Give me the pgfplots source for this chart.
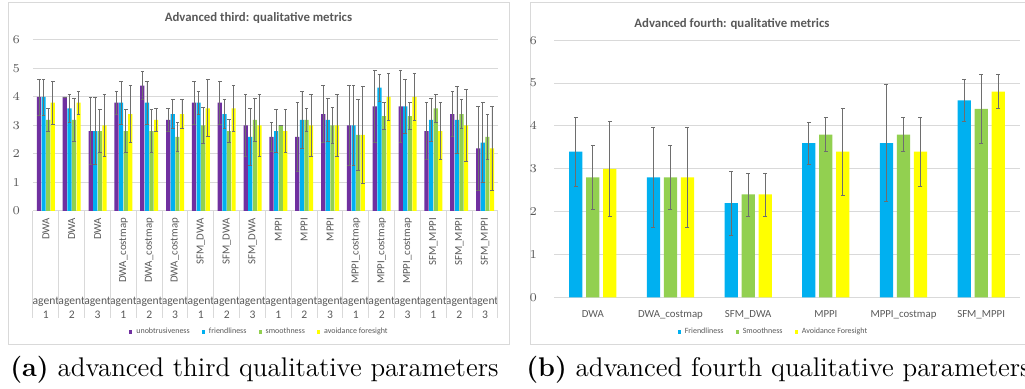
\documentclass[border=0pt]{standalone}
\usepackage{graphicx}
\usepackage{pgfplots}
\pgfplotsset{compat=1.18}
\usepackage{pgfplotstable}
\usepackage{fontspec}
\newfontfamily\cf{Carlito}
\definecolor{cpurple}{HTML}{7030A0}
\definecolor{cblue}{HTML}{00B0F0}
\definecolor{cgreen}{HTML}{92D050}
\definecolor{cyellow}{HTML}{FFFF00}
\definecolor{gridgray}{HTML}{D9D9D9}
\definecolor{textgray}{HTML}{595959}
\definecolor{errgray}{HTML}{6E6E6E}

\pgfplotstableread{
x u ue f fe s se a ae
0 4.0 0.63 4.0 0.63 3.2 0.4 3.8 0.75
1 4.0 0 3.6 0.5 3.2 0.75 3.8 0.4
2 2.8 1.17 2.8 1.17 2.8 0.75 3.0 1.1
3 3.8 0.4 3.8 0.75 2.8 0.75 3.4 1.0
4 4.4 0.5 3.8 0.75 2.8 0.75 3.2 0.4
5 3.2 0.4 3.4 0.5 2.6 0.5 3.4 0.5
6 3.8 0.75 3.8 0.4 3.0 0.63 3.6 1.0
7 3.8 0.75 3.4 0.5 2.8 0.4 3.6 0.8
8 3.0 1.1 2.6 1.0 3.2 0.75 3.0 1.1
9 2.6 0.5 2.8 0.75 3.0 0 2.8 0.75
10 2.6 1.2 3.2 1.0 3.2 0.4 3.0 1.1
11 3.4 1.0 3.2 0.75 3.0 0.63 3.0 1.1
12 3.0 1.41 3.0 1.41 2.67 1.25 2.67 1.7
13 3.67 1.25 4.33 0.47 3.33 0.47 4.0 0.82
14 3.67 1.25 3.67 0.94 3.33 0.47 4.0 0.82
15 2.8 1.0 3.2 0.75 3.6 0.5 2.8 1.0
16 3.4 0.8 3.2 1.17 3.4 0.5 3.0 1.26
17 2.2 1.47 2.4 1.4 2.6 0.8 2.2 1.47
}\tabA

\pgfplotstableread{
x f fe s se a ae
0 3.4 0.8 2.8 0.75 3.0 1.1
1 2.8 1.17 2.8 0.75 2.8 1.17
2 2.2 0.75 2.4 0.5 2.4 0.5
3 3.6 0.49 3.8 0.4 3.4 1.02
4 3.6 1.36 3.8 0.4 3.4 0.8
5 4.6 0.49 4.4 0.8 4.8 0.4
}\tabB

\pgfplotsset{
  excelbar/.style={
    draw=none, fill=#1,
    error bars/.cd, y dir=both, y explicit,
    error bar style={errgray, line width=0.4pt},
    error mark options={errgray, line width=0.4pt, mark size=0.9pt, rotate=90}
  },
  excelbarB/.style={
    draw=none, fill=#1,
    error bars/.cd, y dir=both, y explicit,
    error bar style={errgray, line width=0.4pt},
    error mark options={errgray, line width=0.4pt, mark size=1pt, rotate=90}
  },
}
\newcommand{\rl}[1]{\rotatebox{90}{#1}}

\begin{document}
\begin{tikzpicture}
\useasboundingbox (0,0) rectangle (512.5pt,194.5pt);
\clip (0,0) rectangle (512.5pt,194.5pt);
% frames
\draw[gridgray, line width=0.5pt] (4pt,22pt) rectangle (254.5pt,193pt);
\draw[gridgray, line width=0.5pt] (265pt,22pt) rectangle (520pt,193pt);
% titles
\node[font=\cf\bfseries\fontsize{6.4}{7}\selectfont, text=textgray] at (129.25pt,185.5pt) {Advanced third: qualitative metrics};
\node[font=\cf\bfseries\fontsize{6.4}{7}\selectfont, text=textgray] at (366pt,182.5pt) {Advanced fourth: qualitative metrics};

\begin{axis}[
  at={(16.5pt,89pt)}, anchor=south west,
  width=232.5pt, height=85.5pt, scale only axis,
  xmin=-0.5, xmax=17.5, ymin=0, ymax=6,
  ytick={0,...,6},
  ymajorgrids, grid style={gridgray, line width=0.5pt},
  axis line style={draw=none}, major tick length=0pt,
  xtick={0,...,17},
  xticklabels={\rl{DWA},\rl{DWA},\rl{DWA},\rl{DWA\_costmap},\rl{DWA\_costmap},\rl{DWA\_costmap},\rl{SFM\_DWA},\rl{SFM\_DWA},\rl{SFM\_DWA},\rl{MPPI},\rl{MPPI},\rl{MPPI},\rl{MPPI\_costmap},\rl{MPPI\_costmap},\rl{MPPI\_costmap},\rl{SFM\_MPPI},\rl{SFM\_MPPI},\rl{SFM\_MPPI}},
  xticklabel style={anchor=north, font=\cf\fontsize{5.4}{6}\selectfont, text=textgray},
  yticklabel style={font=\cf\fontsize{5.8}{7}\selectfont, text=textgray, xshift=-3pt},
  extra x ticks={0,...,17},
  extra x tick labels={agent\\1,agent\\2,agent\\3,agent\\1,agent\\2,agent\\3,agent\\1,agent\\2,agent\\3,agent\\1,agent\\2,agent\\3,agent\\1,agent\\2,agent\\3,agent\\1,agent\\2,agent\\3},
  extra x tick style={xticklabel style={anchor=north, align=center, yshift=-39.5pt, font=\cf\fontsize{5.8}{7}\selectfont, text=textgray, inner xsep=0pt}},
  ybar=0.2pt, bar width=2.1pt,
  clip=false,
  legend style={at={(0.489,-0.708)}, anchor=center, draw=none, fill=none,
    font=\cf\fontsize{4}{5}\selectfont, text=textgray, legend columns=4,
    /tikz/every even column/.append style={column sep=4pt}, inner sep=0pt},
  legend image code/.code={\fill[#1] (0pt,-0.8pt) rectangle (1.6pt,0.8pt);},
]
\addplot[excelbar=cpurple] table[x=x, y=u, y error=ue] {\tabA};
\addplot[excelbar=cblue] table[x=x, y=f, y error=fe] {\tabA};
\addplot[excelbar=cgreen] table[x=x, y=s, y error=se] {\tabA};
\addplot[excelbar=cyellow] table[x=x, y=a, y error=ae] {\tabA};
\legend{unobtrusiveness, friendliness, smoothness, avoidance foresight}
\pgfplotsinvokeforeach{-0.5,0.5,...,17.5}{\draw[gridgray, line width=0.5pt] (axis cs:#1,0) -- ++(0pt,-53.5pt);}
\end{axis}

\begin{axis}[
  at={(277pt,45.85pt)}, anchor=south west,
  width=233pt, height=128.5pt, scale only axis,
  xmin=-0.5, xmax=5.5, ymin=0, ymax=6,
  ytick={0,...,6},
  ymajorgrids, grid style={gridgray, line width=0.5pt},
  axis line style={draw=none}, major tick length=0pt,
  xtick={0,...,5},
  xticklabels={DWA,DWA\_costmap,SFM\_DWA,MPPI,MPPI\_costmap,SFM\_MPPI},
  xticklabel style={font=\cf\fontsize{5.4}{6}\selectfont, text=textgray, yshift=-3pt},
  yticklabel style={font=\cf\fontsize{5.8}{7}\selectfont, text=textgray, xshift=-5pt},
  ybar=1.9pt, bar width=6.6pt,
  legend style={at={(0.473,-0.135)}, anchor=center, draw=none, fill=none,
    font=\cf\fontsize{4}{5}\selectfont, text=textgray, legend columns=3,
    /tikz/every even column/.append style={column sep=4pt}, inner sep=0pt},
  legend image code/.code={\fill[#1] (0pt,-0.8pt) rectangle (1.6pt,0.8pt);},
]
\addplot[excelbarB=cblue] table[x=x, y=f, y error=fe] {\tabB};
\addplot[excelbarB=cgreen] table[x=x, y=s, y error=se] {\tabB};
\addplot[excelbarB=cyellow] table[x=x, y=a, y error=ae] {\tabB};
\legend{Friendliness, Smoothness, Avoidance Foresight}
\end{axis}

% captions
\node[anchor=base west, inner sep=0pt, font=\fontsize{13.5}{15}\selectfont] at (5pt,6.2pt) {\textbf{(a)} advanced third qualitative parameters};
\node[anchor=base west, inner sep=0pt, font=\fontsize{13.5}{15}\selectfont] at (263pt,6.2pt) {\textbf{(b)} advanced fourth qualitative parameters};
\end{tikzpicture}
\end{document}
